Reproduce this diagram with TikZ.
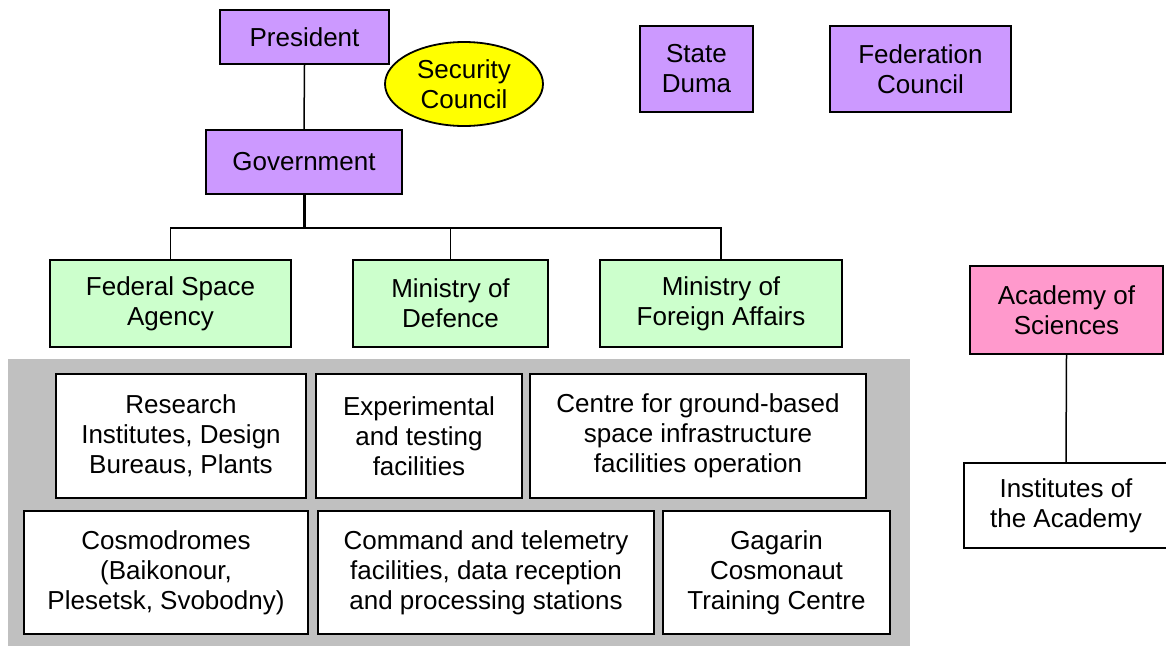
\documentclass[tikz,border=0pt]{standalone}
\usepackage{fontspec}
\setmainfont{Liberation Sans}
\usetikzlibrary{shapes.geometric}
\definecolor{purp}{HTML}{CC99FF}
\definecolor{yell}{HTML}{FFFF00}
\definecolor{grn}{HTML}{CCFFCC}
\definecolor{pnk}{HTML}{FF99CC}
\definecolor{graybg}{HTML}{C0C0C0}
\begin{document}
\begin{tikzpicture}[x=1pt,y=-1pt,
  box/.style={draw=black,line width=1.8pt,align=center,inner sep=0pt,
    font=\fontsize{26}{30}\selectfont},
  conn/.style={draw=black,line width=1.5pt},
  thickconn/.style={draw=black,line width=3pt}]
\useasboundingbox (0,0) rectangle (1166,646);
\fill[graybg] (8,359) rectangle (910,646);

\node[box,fill=purp,minimum width=169pt,minimum height=54pt] (pres) at (304.5,37) {President};
\node[box,fill=purp,minimum width=196pt,minimum height=64pt] (gov) at (304,162) {Government};
\node[box,fill=yell,ellipse,minimum width=158pt,minimum height=84pt] (sec) at (464,84) {Security\\Council};
\node[box,fill=purp,minimum width=113pt,minimum height=86pt] (duma) at (696.5,69) {State\\Duma};
\node[box,fill=purp,minimum width=181pt,minimum height=86pt] (fed) at (920.5,69) {Federation\\Council};

\node[box,fill=grn,minimum width=241pt,minimum height=87pt] (fsa) at (170.5,303.5) {Federal Space\\Agency};
\node[box,fill=grn,minimum width=195pt,minimum height=87pt] (mod) at (450.5,303.5) {Ministry of\\Defence};
\node[box,fill=grn,minimum width=242pt,minimum height=87pt] (mfa) at (721,303.5) {Ministry of\\Foreign Affairs};

\node[box,fill=pnk,minimum width=193pt,minimum height=88pt] (acad) at (1066.5,310) {Academy of\\Sciences};
\node[box,fill=white,minimum width=204pt,minimum height=85pt] (inst) at (1066,505.5) {Institutes of\\the Academy};

\node[box,fill=white,minimum width=250pt,minimum height=124pt] (res) at (181,436) {Research\\Institutes, Design\\Bureaus, Plants};
\node[box,fill=white,minimum width=206pt,minimum height=124pt] (exp) at (419,436) {Experimental\\and testing\\facilities};
\node[box,fill=white,minimum width=336pt,minimum height=124pt] (cen) at (698,436) {Centre for ground-based\\space infrastructure\\facilities operation};
\node[box,fill=white,minimum width=284pt,minimum height=123pt] (cos) at (166,572.5) {Cosmodromes\\(Baikonour,\\Plesetsk, Svobodny)};
\node[box,fill=white,minimum width=336pt,minimum height=123pt] (cmd) at (486,572.5) {Command and telemetry\\facilities, data reception\\and processing stations};
\node[box,fill=white,minimum width=227pt,minimum height=123pt] (gag) at (776.5,572.5) {Gagarin\\Cosmonaut\\Training Centre};

\coordinate (bus) at (304,228);
\draw[conn] (pres.south) -- (gov.north);
\draw[thickconn] (gov.south) -- (bus);
\draw[conn] (fsa.north) |- (bus) -| (mfa.north);
\draw[conn] (mod.north) -- (mod.north |- bus);
\draw[conn] (acad.south) -- (inst.north);
\end{tikzpicture}
\end{document}
